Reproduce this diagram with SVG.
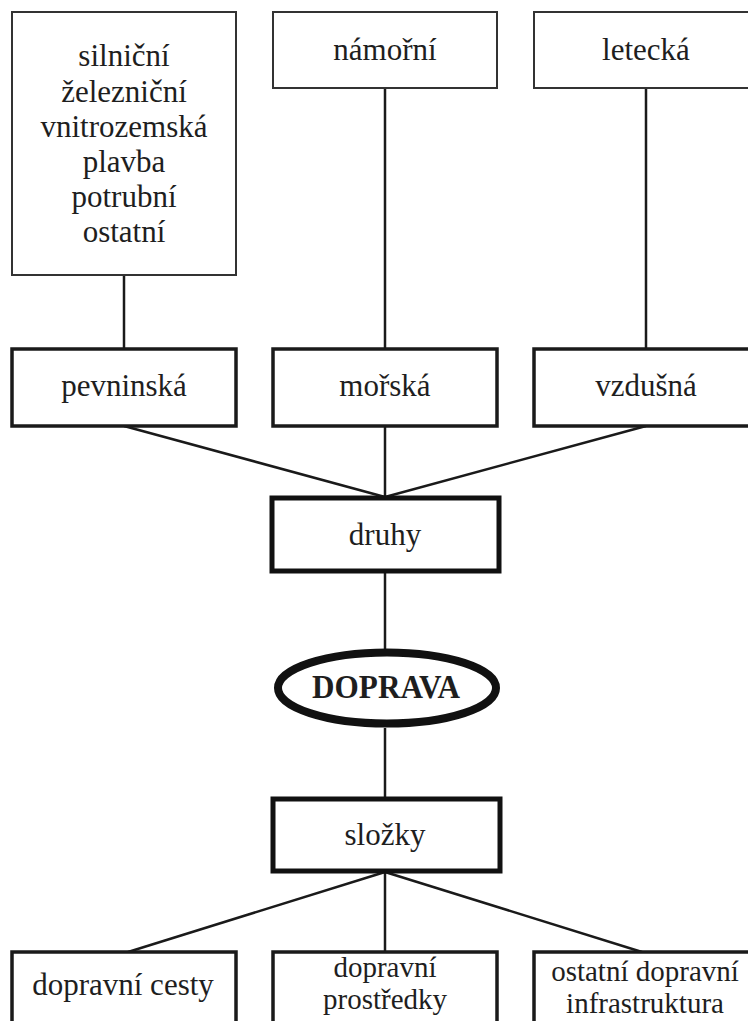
<svg xmlns="http://www.w3.org/2000/svg" width="748" height="1021" viewBox="0 0 748 1021">
<style>
  text{font-family:'Liberation Serif','Times New Roman',Tinos,serif;font-size:31px;fill:#1e1e1e;text-anchor:middle}
  .b{font-weight:bold;font-size:33px}
  .s{font-size:29px}
  .thin{fill:#fff;stroke:#333;stroke-width:2}
  .mid{fill:#fff;stroke:#1a1a1a;stroke-width:3.5}
  .thick{fill:#fff;stroke:#111;stroke-width:5}
  .c{stroke:#1a1a1a;stroke-width:2.5;fill:none}
</style>
<rect width="748" height="1021" fill="#fff"/>
<g id="connectors">
  <line class="c" x1="124" y1="275" x2="124" y2="349"/>
  <line class="c" x1="385" y1="88" x2="385" y2="349"/>
  <line class="c" x1="646" y1="88" x2="646" y2="349"/>
  <line class="c" x1="124" y1="426" x2="385" y2="497"/>
  <line class="c" x1="385" y1="426" x2="385" y2="497"/>
  <line class="c" x1="646" y1="426" x2="385" y2="497"/>
  <line class="c" x1="385" y1="572" x2="385" y2="649"/>
  <line class="c" x1="385" y1="728" x2="385" y2="798"/>
  <line class="c" x1="385" y1="872" x2="128" y2="952"/>
  <line class="c" x1="385" y1="872" x2="385" y2="952"/>
  <line class="c" x1="385" y1="872" x2="642" y2="952"/>
</g>
<g id="n-pevninska-druhy">
  <rect class="thin" x="12" y="12" width="224" height="263"/>
  <text font-family="Liberation Serif, serif" x="124" y="66">silniční</text>
  <text font-family="Liberation Serif, serif" x="124" y="102">železniční</text>
  <text font-family="Liberation Serif, serif" x="124" y="137">vnitrozemská</text>
  <text font-family="Liberation Serif, serif" x="124" y="172">plavba</text>
  <text font-family="Liberation Serif, serif" x="124" y="207">potrubní</text>
  <text font-family="Liberation Serif, serif" x="124" y="242">ostatní</text>
</g>
<g id="n-namorni">
  <rect class="thin" x="273" y="12" width="224" height="76"/>
  <text x="385" y="60">námořní</text>
</g>
<g id="n-letecka">
  <rect class="thin" x="534" y="12" width="224" height="76"/>
  <text x="646" y="60">letecká</text>
</g>
<g id="n-pevninska">
  <rect class="mid" x="12" y="349" width="224" height="77"/>
  <text x="124" y="396">pevninská</text>
</g>
<g id="n-morska">
  <rect class="mid" x="273" y="349" width="224" height="77"/>
  <text x="385" y="396">mořská</text>
</g>
<g id="n-vzdusna">
  <rect class="mid" x="534" y="349" width="224" height="77"/>
  <text x="646" y="396">vzdušná</text>
</g>
<g id="n-druhy">
  <rect class="thick" x="272" y="498" width="227" height="73"/>
  <text x="385" y="545">druhy</text>
</g>
<g id="n-doprava">
  <ellipse cx="387" cy="688" rx="109" ry="35.5" fill="#fff" stroke="#111" stroke-width="8"/>
  <text class="b" x="386" y="698" textLength="148" lengthAdjust="spacingAndGlyphs">DOPRAVA</text>
</g>
<g id="n-slozky">
  <rect class="thick" x="273" y="799" width="227" height="72"/>
  <text x="385" y="845">složky</text>
</g>
<g id="n-cesty">
  <rect class="mid" x="12" y="952" width="224" height="100"/>
  <text x="123" y="995">dopravní cesty</text>
</g>
<g id="n-prostredky">
  <rect class="mid" x="273" y="952" width="224" height="100"/>
  <text class="s" x="385" y="977">dopravní</text>
  <text class="s" x="385" y="1009">prostředky</text>
</g>
<g id="n-infrastruktura">
  <rect class="mid" x="534" y="952" width="224" height="100"/>
  <text class="s" x="645" y="981">ostatní dopravní</text>
  <text class="s" x="645" y="1013">infrastruktura</text>
</g>
</svg>
